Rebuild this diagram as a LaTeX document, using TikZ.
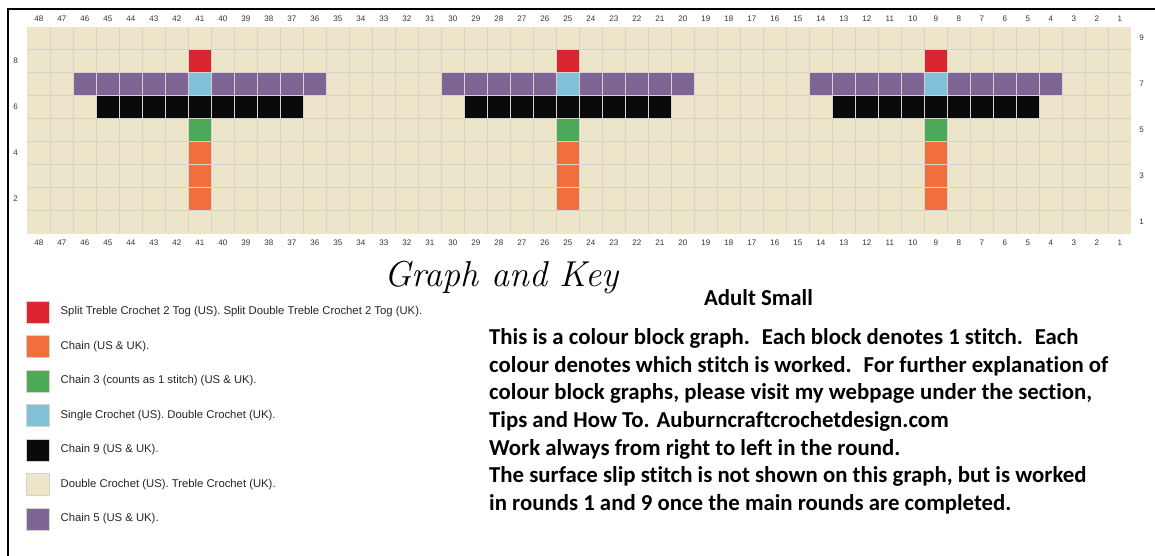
\documentclass[tikz,border=0pt]{standalone}
\usepackage{fontspec}
\newfontfamily\arialfont{Liberation Sans}
\newfontfamily\calibrifont[Ligatures={NoCommon}]{Carlito}
\usetikzlibrary{positioning}
\definecolor{stred}{RGB}{220,36,48}
\definecolor{storange}{RGB}{242,112,62}
\definecolor{stgreen}{RGB}{74,170,88}
\definecolor{stblue}{RGB}{128,193,217}
\definecolor{stblack}{RGB}{10,10,10}
\definecolor{stcream}{RGB}{237,229,202}
\definecolor{stpurple}{RGB}{127,101,149}
\definecolor{gridgrey}{RGB}{214,211,204}
\tikzset{gridline/.style={draw=gridgrey,line width=0.8pt}}
\tikzset{num/.style={font=\arialfont\fontsize{8}{9}\selectfont,text=black!80,inner sep=0pt}}
\tikzset{swatch/.style={draw=gridgrey,line width=0.6pt,minimum width=23pt,minimum height=22pt,inner sep=0pt}}
\tikzset{keytext/.style={font=\arialfont\fontsize{11.3}{13}\selectfont,text=black!85,anchor=west,inner sep=0pt}}
\tikzset{note/.style={font=\calibrifont\bfseries\fontsize{22.8}{26}\selectfont,anchor=base west,inner sep=0pt}}
% one block of the graph: column, round, colour
\newcommand\stitch[3]{\fill[#3] ({27.3+(48-(#1))*23},{26.7+(9-(#2))*23}) rectangle ++(23,23);}

\begin{document}
\begin{tikzpicture}[x=1pt,y=-1pt]
    \useasboundingbox (0,0) rectangle (1155,556);
    \fill [white] (0,0) rectangle (1155,556);
    \draw [line width=1.7pt] (8.3,556) -- (8.3,9.3) -- (1155,9.3);
    % graph
    \fill [stcream] (27.3,26.7) rectangle (1131.3,233.7);
    \foreach \C in {41,25,9} {
        \stitch{\C}{8}{stred}
        \foreach \c in {-5,...,5} {\stitch{\C+\c}{7}{stpurple}}
        \stitch{\C}{7}{stblue}
        \foreach \c in {-4,...,4} {\stitch{\C+\c}{6}{stblack}}
        \stitch{\C}{5}{stgreen}
        \foreach \r in {2,3,4} {\stitch{\C}{\r}{storange}}
    }
    \foreach \i in {1,...,47} \draw [gridline] ({27.3+\i*23},26.7) -- ++(0,207);
    \foreach \j in {1,...,8} \draw [gridline] (27.3,{26.7+\j*23}) -- ++(1104,0);
    % numbering
    \foreach \c in {1,...,48} {
        \node [num] (top\c) at ({27.3+(48-\c)*23+11.5},18.5) {\c};
        \node [num] (bot\c) at ({27.3+(48-\c)*23+11.5},242.7) {\c};
    }
    \foreach \r in {2,4,6,8} \node [num] (left\r) at (15.7,{26.7+(9-\r)*23+11.5}) {\r};
    \foreach \r in {1,3,5,7,9} \node [num] (right\r) at (1141.5,{26.7+(9-\r)*23+11.5}) {\r};
    % headings
    \node [font=\itshape\fontsize{36}{38}\selectfont,anchor=base,inner sep=0pt] (title) at (501.5,286) {Graph and Key};
    \node [font=\calibrifont\bfseries\fontsize{22.8}{26}\selectfont,anchor=base,inner sep=0pt] (size) at (758.5,305) {Adult Small};
    % key
    \foreach \col/\txt [count=\i] in {
        stred/{Split Treble Crochet 2 Tog (US). Split Double Treble Crochet 2 Tog (UK).},
        storange/{Chain (US \& UK).},
        stgreen/{Chain 3 (counts as 1 stitch) (US \& UK).},
        stblue/{Single Crochet (US). Double Crochet (UK).},
        stblack/{Chain 9 (US \& UK).},
        stcream/{Double Crochet (US). Treble Crochet (UK).},
        stpurple/{Chain 5 (US \& UK).}} {
        \node [swatch,fill=\col] (key\i) at (37.7,{312+(\i-1)*34.5}) {};
        \node [keytext,right=11pt of key\i] (keytext\i) {\txt};
    }
    % notes
    \foreach \txt [count=\i] in {
        {This is a colour block graph.~ Each block denotes 1 stitch.~ Each},
        {colour denotes which stitch is worked.~ For further explanation of},
        {colour block graphs, please visit my webpage under the section,},
        {Tips and How To. Auburncraftcrochetdesign.com},
        {Work always from right to left in the round.},
        {The surface slip stitch is not shown on this graph, but is worked},
        {in rounds 1 and 9 once the main rounds are completed.}}
        \node [note] (note\i) at (489,{344.3+(\i-1)*27.7}) {\txt};
\end{tikzpicture}
\end{document}
